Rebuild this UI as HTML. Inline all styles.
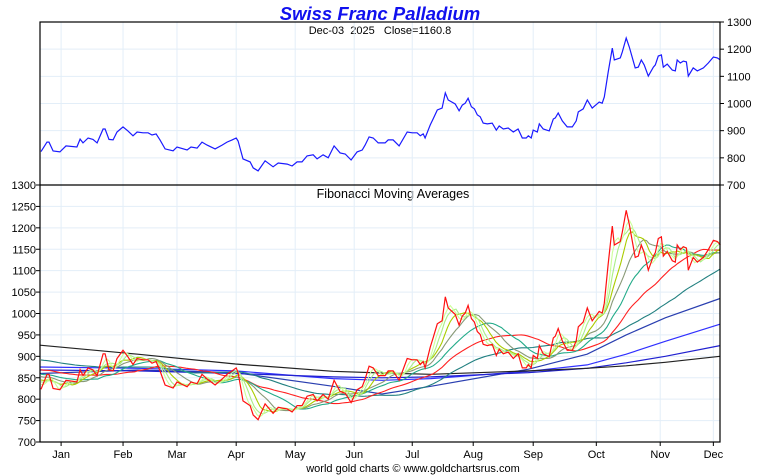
<!DOCTYPE html>
<html><head><meta charset="utf-8"><style>
body{margin:0;background:#fff;font-family:"Liberation Sans",sans-serif;}
svg{display:block}
.pre{white-space:pre}
</style></head><body>
<svg id="c" width="760" height="475" xmlns="http://www.w3.org/2000/svg" font-family="Liberation Sans, sans-serif">
<text x="380" y="20" text-anchor="middle" font-size="18.5" font-weight="bold" font-style="italic" fill="#1010ee">Swiss Franc Palladium</text>
<text class="pre" x="380" y="34" text-anchor="middle" font-size="11" fill="#000">Dec-03  2025   Close=1160.8</text>
<text x="393" y="198" text-anchor="middle" font-size="12.5" fill="#000">Fibonacci Moving Averages</text>
<text x="413" y="472" text-anchor="middle" font-size="11" fill="#000">world gold charts © www.goldchartsrus.com</text>
<g id="grid"></g><g id="lines"></g><g id="axes"></g>
</svg>
<script>
// price readings: day offset (calendar days from chart start) and close value
const priceDays=[0.5,3.6,4.6,6.7,10.2,13.3,18.9,20.5,22,24.6,27.1,29.2,32.3,33.3,35.3,37.4,39.4,42.5,45,47.6,49.7,52.7,55.3,57.3,59.4,61.4,64,68.1,70.1,75.3,77.3,80.4,82.9,85.5,89.6,93.2,95.7,98.3,100.4,101.4,103.9,107.5,109.1,111.6,115.2,119.3,121.9,126.5,129,131.6,134.1,136.7,139.8,141.8,144.9,147.5,150.5,153.6,156.2,159.2,162.3,164.9,166.4,168.4,170.5,173.1,176.6,178.2,180.7,183.8,187.9,190.5,193,194.6,196.1,197.1,199.7,201.2,203.3,205.8,207.4,208.9,212.5,214.5,216.1,217.6,219.1,220.8,222.3,223.8,225.3,226.8,228.9,231.4,233.5,235,237.1,239.6,242.2,244.7,246.8,248.8,249.9,251.4,252.4,254.5,255.5,257.5,260.6,262.7,263.7,265.2,267.3,269.8,272.4,274.4,275.5,278,280.1,282.6,286.2,287.7,288.8,290.8,292.9,293.9,297,298,300,301.6,304.6,306.2,307.7,309.2,311.3,313.9,314.9,316.4,318,319,321,323.6,325.1,326.1,327.7,329.2,330.8,331.8,334.3,336.4,339.5,342,344.6,346.6,348.2];
const priceVals=[823,858,858,825,822,844,840,869,855,873,868,855,906,906,868,866,895,914,899,881,895,892,892,884,888,866,833,826,840,829,840,836,858,847,833,847,858,866,873,862,796,785,763,752,789,767,781,777,770,785,785,807,811,796,811,800,844,818,814,792,822,829,847,877,873,855,855,866,866,844,895,892,892,881,888,873,921,943,976,983,1039,1013,998,973,994,1001,1019,988,980,958,951,928,925,928,902,917,906,910,895,906,873,873,881,873,902,895,925,906,899,943,947,965,936,914,914,936,969,980,1013,983,1005,1001,1024,1116,1204,1160,1168,1190,1241,1208,1131,1134,1160,1142,1101,1134,1142,1175,1179,1134,1145,1123,1120,1160,1149,1156,1153,1101,1131,1120,1131,1149,1171,1168,1160];
// short Fibonacci MA periods (trading days) and prior-history seeds
const maPeriods=[3,5,8,13,21,34,55];
const maSeeds=[840,845,848,855,860,870,893];
// long MAs
const longDays=[0,50,100,150,175,200,250,280,300,320,348];
const ma89=[860,868,862,830,812,830,870,905,950,990,1035];
const ma144=[875,872,866,848,844,848,865,880,905,935,975];
const ma233=[868,866,860,852,850,852,862,872,885,900,925];
const ma377=[926,905,882,865,861,858,866,872,878,886,900];
const yTicks=[700,750,800,850,900,950,1000,1050,1100,1150,1200,1250,1300];
const topTicks=[700,800,900,1000,1100,1200,1300];
const months=["Jan","Feb","Mar","Apr","May","Jun","Jul","Aug","Sep","Oct","Nov","Dec"];
const monthDays=[10.8,42.5,70.1,100.4,130.6,160.8,190.5,221.7,252.4,284.7,317.4,344.6];

const NS="http://www.w3.org/2000/svg";
const X0=40,X1=720,TT=22,TB=185,BB=442,DMAX=348;
const xS=d=>X0+d*(X1-X0)/DMAX;
const yTop=v=>TB-(v-700)*(TB-TT)/600;
const yBot=v=>BB-(v-700)*(BB-TB)/600;
function mk(tag,attrs,parent){const e=document.createElementNS(NS,tag);for(const k in attrs)e.setAttribute(k,attrs[k]);parent.appendChild(e);return e;}
const grid=document.getElementById('grid'),lines=document.getElementById('lines'),axes=document.getElementById('axes');
const GC="#e3eef8";
monthDays.forEach((d,i)=>{
 const g=mk('line',{x1:xS(d),x2:xS(d),y1:TT,y2:BB,stroke:GC,'stroke-width':1},grid);
 
 
 const t=mk('text',{x:xS(d),y:458,'text-anchor':'middle','font-size':11,fill:'#000'},axes);
 t.textContent=months[i];
 
 
 mk('line',{x1:xS(d),x2:xS(d),y1:BB,y2:BB+4,stroke:'#000'},axes);
});
topTicks.forEach(v=>{
 if(v>700&&v<1300){const g=mk('line',{x1:X0,x2:X1,y1:yTop(v),y2:yTop(v),stroke:GC},grid);
 
 }
 mk('line',{x1:X1,x2:X1+4,y1:yTop(v),y2:yTop(v),stroke:'#000'},axes);
 const t=mk('text',{x:X1+7,y:yTop(v)+4,'font-size':11,fill:'#000'},axes);
 t.textContent=v;
 
 
});
yTicks.forEach(v=>{
 if(v>700&&v<1300){const g=mk('line',{x1:X0,x2:X1,y1:yBot(v),y2:yBot(v),stroke:GC},grid);
 
 }
 mk('line',{x1:X0-4,x2:X0,y1:yBot(v),y2:yBot(v),stroke:'#000'},axes);
 const t=mk('text',{x:X0-4,y:yBot(v)+4,'text-anchor':'end','font-size':11,fill:'#000'},axes);
 t.textContent=v;
 
 
});
const fr=mk('rect',{x:X0,y:TT,width:X1-X0,height:BB-TT,fill:'none',stroke:'#000','stroke-width':1.2},axes);


mk('line',{x1:X0,x2:X1,y1:TB,y2:TB,stroke:'#000','stroke-width':1.2},axes);

function pts(ds,vs,ys){return ds.map((d,i)=>xS(d).toFixed(1)+','+ys(vs[i]).toFixed(1)).join(' ');}
function interp(ds,vs,d){if(d<=ds[0])return vs[0];for(let i=1;i<ds.length;i++){if(d<=ds[i]){const f=(d-ds[i-1])/(ds[i]-ds[i-1]);return vs[i-1]+f*(vs[i]-vs[i-1]);}}return vs[vs.length-1];}
// trading-day grid
const N=240,tDays=[],tVals=[];
for(let i=0;i<N;i++){const d=priceDays[0]+i*(priceDays[priceDays.length-1]-priceDays[0])/(N-1);tDays.push(d);tVals.push(interp(priceDays,priceVals,d));}
function sma(p,seed){return tVals.map((_,i)=>{let s=0;for(let k=0;k<p;k++){const j=i-k;s+=j>=0?tVals[j]:seed;}return s/p;});}

const topL=mk('polyline',{points:pts(priceDays,priceVals,yTop),fill:'none',stroke:'#1a1aff','stroke-width':1.2},lines);



const longCols=['#2a3fb0','#3030ff','#2020d0','#222222'];
[ma89,ma144,ma233,ma377].forEach((arr,i)=>{
 const l=mk('polyline',{points:pts(longDays,arr,yBot),fill:'none',stroke:longCols[i],'stroke-width':1.2},lines);
 
 
});
const maCols=['#ccff99','#aaee88','#aacc00','#889977','#22aa88','#ff2020','#228080'];
for(let i=maPeriods.length-1;i>=0;i--){
 const m=sma(maPeriods[i],maSeeds[i]);
 const l=mk('polyline',{points:pts(tDays,m,yBot),fill:'none',stroke:maCols[i],'stroke-width':1.1},lines);
 
 
}
const botL=mk('polyline',{points:pts(priceDays,priceVals,yBot),fill:'none',stroke:'#ff1010','stroke-width':1.2},lines);


</script>
</body></html>
